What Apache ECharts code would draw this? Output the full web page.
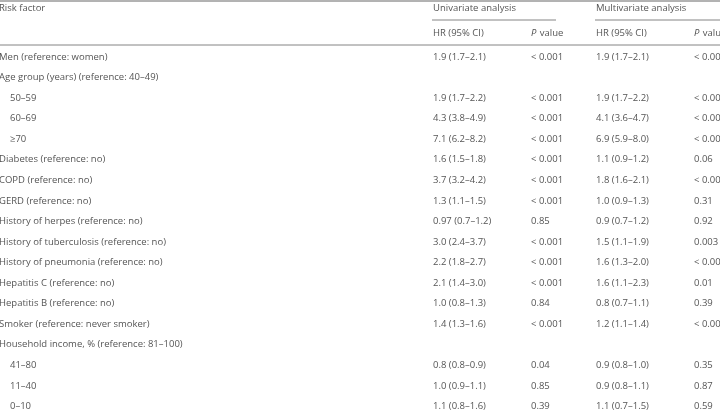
<!DOCTYPE html>
<html><head><meta charset="utf-8">
<script src="https://cdn.jsdelivr.net/npm/echarts@6/dist/echarts.min.js"></script>
<style>html,body{margin:0;padding:0;background:#fff}#c{width:720px;height:417px}</style>
</head><body><div id="c"></div>
<script>
var factors = ["Men (reference: women)","Age group (years) (reference: 40\u201349)","50\u201359","60\u201369","\u226570","Diabetes (reference: no)","COPD (reference: no)","GERD (reference: no)","History of herpes (reference: no)","History of tuberculosis (reference: no)","History of pneumonia (reference: no)","Hepatitis C (reference: no)","Hepatitis B (reference: no)","Smoker (reference: never smoker)","Household income, % (reference: 81\u2013100)","41\u201380","11\u201340","0\u201310"];
var indented = [false,false,true,true,true,false,false,false,false,false,false,false,false,false,false,true,true,true];
var uniHR = ["1.9 (1.7\u20132.1)","","1.9 (1.7\u20132.2)","4.3 (3.8\u20134.9)","7.1 (6.2\u20138.2)","1.6 (1.5\u20131.8)","3.7 (3.2\u20134.2)","1.3 (1.1\u20131.5)","0.97 (0.7\u20131.2)","3.0 (2.4\u20133.7)","2.2 (1.8\u20132.7)","2.1 (1.4\u20133.0)","1.0 (0.8\u20131.3)","1.4 (1.3\u20131.6)","","0.8 (0.8\u20130.9)","1.0 (0.9\u20131.1)","1.1 (0.8\u20131.6)"];
var uniP = ["< 0.001","","< 0.001","< 0.001","< 0.001","< 0.001","< 0.001","< 0.001","0.85","< 0.001","< 0.001","< 0.001","0.84","< 0.001","","0.04","0.85","0.39"];
var multiHR = ["1.9 (1.7\u20132.1)","","1.9 (1.7\u20132.2)","4.1 (3.6\u20134.7)","6.9 (5.9\u20138.0)","1.1 (0.9\u20131.2)","1.8 (1.6\u20132.1)","1.0 (0.9\u20131.3)","0.9 (0.7\u20131.2)","1.5 (1.1\u20131.9)","1.6 (1.3\u20132.0)","1.6 (1.1\u20132.3)","0.8 (0.7\u20131.1)","1.2 (1.1\u20131.4)","","0.9 (0.8\u20131.0)","0.9 (0.8\u20131.1)","1.1 (0.7\u20131.5)"];
var multiP = ["< 0.001","","< 0.001","< 0.001","< 0.001","0.06","< 0.001","0.31","0.92","0.003","< 0.001","0.01","0.39","< 0.001","","0.35","0.87","0.59"];

var FONT = '"Open Sans", sans-serif', COL = '#555', FS = 9.5;
var g = [];
function txt(x, y, s) {
  g.push({type:'text', x:x, y:y, style:{text:s, fill:COL, font:FS+'px '+FONT, textVerticalAlign:'middle'}});
}
function line(x1, y1, x2, y2, w) {
  g.push({type:'line', shape:{x1:x1,y1:y1,x2:x2,y2:y2}, style:{stroke:'#666', lineWidth:w||1}});
}
line(0, 1, 720, 1, 1);
txt(-1, 8, 'Risk factor');
txt(433, 8, 'Univariate analysis');
txt(596, 8, 'Multivariate analysis');
line(432, 20, 556, 20, 0.8);
line(595, 20, 720, 20, 0.8);
var pRich = {i:{fontStyle:'italic', fill:COL, fontSize:FS, fontFamily:FONT}, n:{fill:COL, fontSize:FS, fontFamily:FONT}};
txt(433, 33, 'HR (95% CI)');
g.push({type:'text', x:531, y:33, style:{text:'{i|P} {n|value}', rich:pRich, textVerticalAlign:'middle'}});
txt(596, 33, 'HR (95% CI)');
g.push({type:'text', x:694, y:33, style:{text:'{i|P} {n|value}', rich:pRich, textVerticalAlign:'middle'}});
line(0, 45, 720, 45, 0.8);
for (var i = 0; i < factors.length; i++) {
  var y = 57 + i * 20.55;
  txt(indented[i] ? 10 : -1, y, factors[i]);
  txt(433, y, uniHR[i]);
  txt(531, y, uniP[i]);
  txt(596, y, multiHR[i]);
  txt(694, y, multiP[i]);
}
var chart = echarts.init(document.getElementById('c'));
chart.setOption({animation:false, graphic:{elements:g}});
</script></body></html>
